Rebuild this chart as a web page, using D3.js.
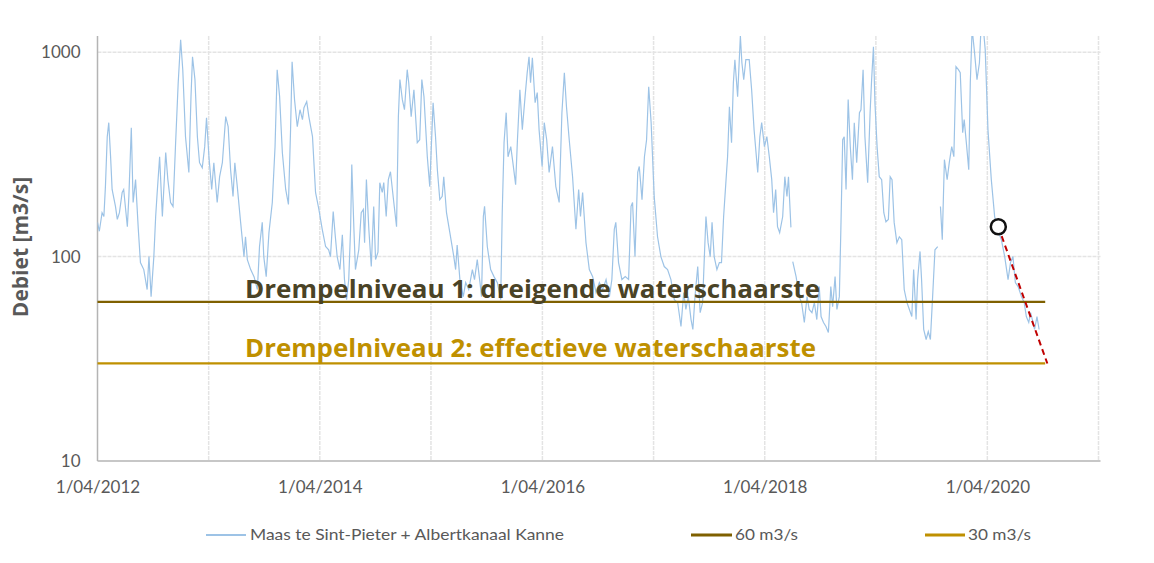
<!DOCTYPE html>
<html>
<head>
<meta charset="utf-8">
<script src="https://cdn.jsdelivr.net/npm/d3@7"></script>
<style>
  body { margin: 0; background: #ffffff; }
  text { font-family: Lato, "Open Sans", sans-serif; }
</style>
</head>
<body>
<div id="chart"></div>
<script>

// daily flow (roughly every 1-2 weeks), null = gap in the series
const flowDates = [
  "2012-04-01","2012-04-07","2012-04-16","2012-04-22","2012-04-27","2012-05-03","2012-05-08","2012-05-14","2012-05-19","2012-05-30",
  "2012-06-05","2012-06-12","2012-06-21","2012-06-26","2012-07-08","2012-07-13","2012-07-21","2012-07-27","2012-08-04","2012-08-13",
  "2012-08-20","2012-08-31","2012-09-11","2012-09-17","2012-09-24","2012-10-03","2012-10-09","2012-10-14","2012-10-22","2012-10-31",
  "2012-11-11","2012-11-18","2012-11-27","2012-12-05","2012-12-13","2012-12-22","2012-12-30","2013-01-06","2013-01-15","2013-01-26",
  "2013-02-02","2013-02-07","2013-02-15","2013-02-23","2013-03-02","2013-03-11","2013-03-19","2013-03-25","2013-04-02","2013-04-11",
  "2013-04-18","2013-04-29","2013-05-07","2013-05-16","2013-05-27","2013-06-04","2013-06-12","2013-06-20","2013-06-26","2013-07-04",
  "2013-07-15","2013-07-26","2013-07-31","2013-08-06","2013-08-17","2013-08-28","2013-09-08","2013-09-15","2013-09-24","2013-09-29",
  "2013-10-07","2013-10-16","2013-10-27","2013-11-05","2013-11-12","2013-11-20","2013-11-29","2013-12-10","2013-12-19","2013-12-26",
  "2013-12-31","2014-01-08","2014-01-17","2014-01-26","2014-02-03","2014-02-08","2014-02-17","2014-02-24","2014-03-08","2014-03-18",
  "2014-03-29","2014-04-09","2014-04-20","2014-04-30","2014-05-06","2014-05-15","2014-05-22","2014-05-28","2014-06-06","2014-06-14",
  "2014-06-21","2014-06-28","2014-07-05","2014-07-11","2014-07-15","2014-07-22","2014-07-27","2014-08-07","2014-08-15","2014-08-22",
  "2014-08-26","2014-09-01","2014-09-09","2014-09-17","2014-09-25","2014-10-01","2014-10-09","2014-10-15","2014-10-23","2014-10-28",
  "2014-11-05","2014-11-12","2014-11-19","2014-11-30","2014-12-09","2014-12-15","2014-12-20","2014-12-28","2015-01-04","2015-01-13",
  "2015-01-18","2015-01-26","2015-02-04","2015-02-15","2015-02-23","2015-03-02","2015-03-09","2015-03-20","2015-03-28","2015-04-08",
  "2015-04-16","2015-04-22","2015-04-30","2015-05-08","2015-05-13","2015-05-22","2015-06-02","2015-06-15","2015-06-21","2015-06-26",
  "2015-07-05","2015-07-16","2015-07-24","2015-08-03","2015-08-15","2015-08-22","2015-08-31","2015-09-09","2015-09-14","2015-09-20",
  "2015-09-24","2015-10-03","2015-10-14","2015-10-25","2015-11-05","2015-11-16","2015-11-21","2015-11-27","2015-12-04","2015-12-10",
  "2015-12-19","2015-12-26","2016-01-04","2016-01-10","2016-01-18","2016-01-26","2016-02-04","2016-02-11","2016-02-17","2016-02-22",
  "2016-02-28","2016-03-08","2016-03-15","2016-03-21","2016-03-31","2016-04-07","2016-04-15","2016-04-23","2016-05-04","2016-05-15",
  "2016-05-26","2016-06-04","2016-06-12","2016-06-19","2016-06-28","2016-07-09","2016-07-20","2016-07-29","2016-08-04","2016-08-11",
  "2016-08-22","2016-09-02","2016-09-13","2016-09-24","2016-10-05","2016-10-16","2016-10-27","2016-11-07","2016-11-15","2016-11-23",
  "2016-11-28","2016-12-07","2016-12-18","2016-12-29","2017-01-09","2017-01-17","2017-01-22","2017-01-30","2017-02-08","2017-02-13",
  "2017-02-22","2017-03-02","2017-03-09","2017-03-16","2017-03-24","2017-04-03","2017-04-14","2017-04-25","2017-05-06","2017-05-17",
  "2017-05-28","2017-06-08","2017-06-19","2017-06-30","2017-07-09","2017-07-16","2017-07-24","2017-08-02","2017-08-08","2017-08-15",
  "2017-08-24","2017-09-01","2017-09-09","2017-09-14","2017-09-20","2017-09-27","2017-10-04","2017-10-10","2017-10-17","2017-10-26",
  "2017-11-03","2017-11-10","2017-11-17","2017-11-25","2017-11-30","2017-12-06","2017-12-13","2017-12-19","2017-12-24","2018-01-02",
  "2018-01-11","2018-01-16","2018-01-22","2018-01-29","2018-02-09","2018-02-17","2018-02-25","2018-03-09","2018-03-16","2018-03-22",
  "2018-03-31","2018-04-08","2018-04-16","2018-04-24","2018-04-30","2018-05-07","2018-05-13","2018-05-20","2018-05-30","2018-06-06",
  "2018-06-13","2018-06-18","2018-06-26","2018-06-29","2018-07-02","2018-07-13","2018-07-23","2018-07-31","2018-08-09","2018-08-18",
  "2018-08-25","2018-09-03","2018-09-11","2018-09-19","2018-09-27","2018-10-03","2018-10-11","2018-10-19","2018-10-27","2018-11-04",
  "2018-11-10","2018-11-18","2018-11-24","2018-12-02","2018-12-07","2018-12-13","2018-12-18","2018-12-24","2018-12-31","2019-01-07",
  "2019-01-14","2019-01-20","2019-01-28","2019-02-06","2019-02-11","2019-02-18","2019-02-24","2019-03-05","2019-03-13","2019-03-18",
  "2019-03-24","2019-03-29","2019-04-05","2019-04-12","2019-04-20","2019-04-27","2019-05-04","2019-05-12","2019-05-18","2019-05-24",
  "2019-05-31","2019-06-09","2019-06-17","2019-06-25","2019-07-03","2019-07-12","2019-07-20","2019-07-28","2019-08-03","2019-08-11",
  "2019-08-16","2019-08-24","2019-08-29","2019-09-05","2019-09-13","2019-09-20","2019-09-27","2019-10-05","2019-10-12","2019-10-21",
  "2019-10-25","2019-10-30","2019-11-05","2019-11-12","2019-11-21","2019-11-28","2019-12-06","2019-12-13","2019-12-20","2019-12-28",
  "2020-01-03","2020-01-11","2020-01-16","2020-01-23","2020-01-31","2020-02-05","2020-02-11","2020-02-18","2020-02-27","2020-03-06",
  "2020-03-11","2020-03-19","2020-03-25","2020-04-03","2020-04-14","2020-04-25","2020-05-04","2020-05-17","2020-05-28","2020-06-08",
  "2020-06-16","2020-06-24","2020-07-02","2020-07-11","2020-07-22","2020-07-31","2020-08-07","2020-08-15","2020-08-21","2020-08-29",
  "2020-09-03","2020-09-11","2020-09-18"
];

const flowValues = [
  147,133,164,157,220,386,452,308,213,176,
  152,164,206,213,140,197,427,184,238,136,
  93.5,86.4,69,100,63.7,100,157,206,308,157,
  323,238,184,176,345,709,1151,821,386,258,
  606,950,734,386,288,272,345,478,308,213,
  288,184,246,288,484,432,266,197,288,220,
  147,100,125,96.7,86.4,79.8,69,112,147,100,
  79.8,131,184,345,821,606,323,213,180,418,
  898,586,432,523,468,535,573,484,386,206,
  170,136,112,108,100,166,125,100,86.4,128,
  77.2,61.6,77.2,136,282,136,86.4,108,164,170,
  117,238,136,89.4,176,96.7,105,230,206,230,
  157,238,260,184,140,484,734,586,523,821,
  709,484,655,361,373,734,606,308,220,566,
  386,266,190,197,246,164,131,100,86.4,114,
  77.2,63.7,74.6,69,86.4,77.2,96.7,74.6,63.7,157,
  176,112,86.4,79.8,74.6,61.6,164,361,506,308,
  345,288,225,373,655,418,606,794,950,709,
  940,566,634,418,276,452,373,258,345,220,
  184,506,794,541,373,246,136,213,157,206,
  117,86.4,79.8,66.7,74.6,69,77.2,63.7,77.2,136,
  147,93.5,77.2,79.8,77.2,176,184,100,258,276,
  190,308,373,678,452,197,125,100,89.4,86.4,
  77.2,61.6,59.6,45.5,66.7,55.1,63.7,49.2,44,63.7,
  89.4,53.2,59.6,93.5,157,117,100,147,100,86.4,
  93.5,93.5,157,238,308,541,361,709,919,606,
  1200,888,734,919,919,655,418,258,386,452,
  345,386,308,238,164,213,140,131,157,246,
  197,246,139,null,94.5,79.8,63.7,59.6,47.6,63.7,
  55.1,53.2,59.6,49.2,71.3,50.9,47.6,45.5,42.5,71.3,
  56.9,79.8,55.1,63.7,136,373,386,213,586,345,
  238,452,288,506,523,821,386,230,506,734,
  1064,560,345,246,238,164,148,152,246,238,
  147,117,125,121,69,59.6,55.1,50.9,86.4,49.2,
  77.2,106,77.2,44,39.3,43,39.3,66.7,108,112,
  null,176,121,298,238,288,345,308,850,821,
  794,404,468,361,266,709,1300,1029,734,888,
  1300,1300,1029,418,238,157,136,121,100,77.2,
  93.5,100,74.6,71.3,63.7,59.6,50.9,47.6,53.2,47.6,
  44,50.9,44
];

// threshold levels
const thresholdValues = [60, 30];
const thresholdLabels = ["Drempelniveau 1: dreigende waterschaarste", "Drempelniveau 2: effectieve waterschaarste"];
const thresholdStart = "2012-04-01";
const thresholdEnd = "2020-10-08";

// marked point and trend to level 2
const markDate = "2020-05-07";
const markValue = 140;
const trendDates = ["2020-05-07", "2020-10-15"];
const trendValues = [140, 30];

// axes
const yTicks = [10, 100, 1000];
const xGridDates = ["2012-04-01","2013-04-01","2014-04-01","2015-04-01","2016-04-01","2017-04-01","2018-04-01","2019-04-01","2020-04-01","2021-04-01"];
const xLabelDates = ["2012-04-01","2014-04-01","2016-04-01","2018-04-01","2020-04-01"];

const legendLabels = ["Maas te Sint-Pieter + Albertkanaal Kanne", "60 m3/s", "30 m3/s"];

// styles
const flowColor = "#9dc3e6";
const thresholdColors = ["#7f6000", "#bf9000"];
const labelColors = ["#4a4326", "#bf9000"];
const gridColor = "#e4e4e4";
const axisColor = "#b4b4b4";
const textColor = "#595959";

const width = 1154;
const height = 563;
const plot = {left: 97.5, right: 1098.5, top: 36, bottom: 461};

const parse = d3.timeParse("%Y-%m-%d");

const flow = flowDates.map((d, i) => ({date: parse(d), value: flowValues[i]}));

const svg = d3.select("#chart")
  .append("svg")
  .attr("width", width)
  .attr("height", height)
  .attr("viewBox", [0, 0, width, height]);

const x = d3.scaleTime()
  .domain([parse("2012-04-01"), parse("2021-04-01")])
  .range([plot.left, plot.right]);

const y = d3.scaleLog()
  .domain([10, 1200])
  .range([plot.bottom, plot.top]);

// gridlines
svg.append("g")
  .selectAll("line.hgrid")
  .data(yTicks.slice(1))
  .enter()
  .append("line")
    .attr("x1", plot.left)
    .attr("x2", plot.right + 2)
    .attr("y1", d => y(d))
    .attr("y2", d => y(d))
    .attr("stroke", gridColor)
    .attr("stroke-width", 1.5)
    .attr("stroke-dasharray", "4,1");

svg.append("g")
  .selectAll("line.vgrid")
  .data(xGridDates.slice(1))
  .enter()
  .append("line")
    .attr("x1", d => x(parse(d)))
    .attr("x2", d => x(parse(d)))
    .attr("y1", plot.top)
    .attr("y2", plot.bottom)
    .attr("stroke", gridColor)
    .attr("stroke-width", 1.5)
    .attr("stroke-dasharray", "4,1");

// axes
const yAxis = svg.append("g")
  .attr("transform", `translate(${plot.left},0)`)
  .call(d3.axisLeft(y).tickValues(yTicks).tickFormat(d3.format("d")).tickSize(0).tickPadding(17));
yAxis.select(".domain").remove();
yAxis.selectAll("text")
  .attr("fill", textColor)
  .style("font-size", "17px")
  .style("font-family", "Lato, sans-serif");

const xAxis = svg.append("g")
  .attr("transform", `translate(0,${plot.bottom})`)
  .call(d3.axisBottom(x)
    .tickValues(xLabelDates.map(parse))
    .tickFormat(d3.timeFormat("%-d/%m/%Y"))
    .tickSize(0)
    .tickPadding(20));
xAxis.select(".domain").remove();
xAxis.selectAll("text")
  .attr("fill", textColor)
  .style("font-size", "17px")
  .style("font-family", "Lato, sans-serif");

svg.append("line")
  .attr("x1", plot.left).attr("x2", plot.left)
  .attr("y1", plot.top).attr("y2", plot.bottom)
  .attr("stroke", axisColor).attr("stroke-width", 1.5);

svg.append("line")
  .attr("x1", plot.left).attr("x2", plot.right + 2)
  .attr("y1", plot.bottom).attr("y2", plot.bottom)
  .attr("stroke", axisColor).attr("stroke-width", 1.5);

// y title
svg.append("text")
  .attr("transform", "translate(28,247) rotate(-90)")
  .attr("text-anchor", "middle")
  .attr("fill", textColor)
  .style("font-family", "'Open Sans', sans-serif")
  .style("font-weight", "bold")
  .style("font-size", "21px")
  .text("Debiet [m3/s]");

// flow line, clipped to plot area
svg.append("clipPath")
  .attr("id", "plot-clip")
  .append("rect")
    .attr("x", plot.left)
    .attr("y", plot.top)
    .attr("width", plot.right - plot.left)
    .attr("height", plot.bottom - plot.top);

const line = d3.line()
  .defined(d => d.value != null)
  .x(d => x(d.date))
  .y(d => y(d.value));

svg.append("path")
  .datum(flow)
  .attr("clip-path", "url(#plot-clip)")
  .attr("fill", "none")
  .attr("stroke", flowColor)
  .attr("stroke-width", 1.2)
  .attr("d", line);

// threshold lines
svg.append("g")
  .selectAll("line")
  .data(thresholdValues)
  .enter()
  .append("line")
    .attr("x1", x(parse(thresholdStart)))
    .attr("x2", x(parse(thresholdEnd)))
    .attr("y1", d => y(d))
    .attr("y2", d => y(d))
    .attr("stroke", (d, i) => thresholdColors[i])
    .attr("stroke-width", 2.2);

// threshold labels
svg.append("g")
  .selectAll("text")
  .data(thresholdValues)
  .enter()
  .append("text")
    .attr("x", 245)
    .attr("y", (d, i) => y(d) - (i == 0 ? 4 : 6))
    .attr("fill", (d, i) => labelColors[i])
    .attr("textLength", (d, i) => i == 0 ? 575 : 571)
    .attr("lengthAdjust", "spacingAndGlyphs")
    .style("font-family", "'Open Sans', sans-serif")
    .style("font-weight", "bold")
    .style("font-size", "25px")
    .text((d, i) => thresholdLabels[i]);

// trend line to level 2
svg.append("line")
  .attr("x1", x(parse(trendDates[0])))
  .attr("y1", y(trendValues[0]))
  .attr("x2", x(parse(trendDates[1])))
  .attr("y2", y(trendValues[1]))
  .attr("stroke", "#c00000")
  .attr("stroke-width", 2)
  .attr("stroke-dasharray", "6,4");

svg.append("circle")
  .attr("cx", x(parse(markDate)))
  .attr("cy", y(markValue))
  .attr("r", 7.5)
  .attr("fill", "#ffffff")
  .attr("stroke", "#111111")
  .attr("stroke-width", 2.5);

// legend
const legendY = 535;
const legendItems = [
  {x1: 206, x2: 246, tx: 250, tw: 314, color: flowColor, sw: 2},
  {x1: 691, x2: 732, tx: 735, tw: 63, color: thresholdColors[0], sw: 3},
  {x1: 925, x2: 965, tx: 968, tw: 63, color: thresholdColors[1], sw: 3}
];

const legend = svg.append("g");
legend.selectAll("line")
  .data(legendItems)
  .enter()
  .append("line")
    .attr("x1", d => d.x1)
    .attr("x2", d => d.x2)
    .attr("y1", legendY)
    .attr("y2", legendY)
    .attr("stroke", d => d.color)
    .attr("stroke-width", d => d.sw);

legend.selectAll("text")
  .data(legendItems)
  .enter()
  .append("text")
    .attr("x", d => d.tx)
    .attr("y", legendY + 5)
    .attr("textLength", d => d.tw)
    .attr("lengthAdjust", "spacingAndGlyphs")
    .attr("fill", textColor)
    .style("font-size", "15px")
    .text((d, i) => legendLabels[i]);

</script>
</body>
</html>
